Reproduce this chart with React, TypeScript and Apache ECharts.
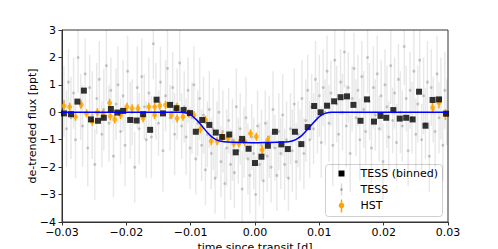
import React, { useEffect, useRef } from "react";
import * as echarts from "echarts";

// TESS unbinned: [time, flux, err]
const tessRaw: [number, number, number][] = [
  [-0.0297, 0.4, 1.3], [-0.0293, -0.6, 1.4], [-0.029, 1.1, 1.2], [-0.0286, -0.2, 1.5], [-0.0282, 0.7, 1.3],
  [-0.0279, -1.0, 1.4], [-0.0275, 2.0, 1.3], [-0.0271, 0.2, 1.2], [-0.0268, -0.5, 1.5], [-0.0264, 1.4, 1.3],
  [-0.026, -1.3, 1.4], [-0.0257, 0.9, 1.2], [-0.0253, -0.1, 1.6], [-0.0249, -1.9, 1.3], [-0.0246, 0.5, 1.3],
  [-0.0242, 1.2, 1.4], [-0.0238, -0.8, 1.2], [-0.0235, 0.1, 1.5], [-0.0231, 1.7, 1.3], [-0.0227, -0.4, 1.4],
  [-0.0224, 0.8, 1.2], [-0.022, -1.6, 1.5], [-0.0216, 0.3, 1.3], [-0.0213, 1.0, 1.4], [-0.0209, -0.7, 1.2],
  [-0.0205, 0.6, 1.3], [-0.0202, -1.2, 1.5], [-0.0198, 1.5, 1.3], [-0.0194, -0.3, 1.4], [-0.0191, 0.0, 1.2],
  [-0.0187, -2.0, 1.3], [-0.0183, 0.9, 1.5], [-0.018, -0.6, 1.3], [-0.0176, 1.3, 1.4], [-0.0172, 0.2, 1.2],
  [-0.0169, -1.0, 1.4], [-0.0165, 0.7, 1.3], [-0.0161, -0.9, 1.5], [-0.0158, 2.5, 1.3], [-0.0154, 0.4, 1.4],
  [-0.015, -0.4, 1.2], [-0.0147, 1.1, 1.3], [-0.0143, -1.4, 1.5], [-0.0139, 0.6, 1.3], [-0.0136, 1.6, 1.4],
  [-0.0132, -0.2, 1.2], [-0.0128, 0.9, 1.3], [-0.0125, -0.8, 1.5], [-0.0121, 0.3, 1.3], [-0.0117, 1.8, 1.4],
  [-0.0114, -0.5, 1.2], [-0.011, 0.2, 1.3], [-0.0107, -0.9, 1.4], [-0.0104, 0.8, 1.2], [-0.0101, -1.3, 1.5],
  [-0.0098, -0.2, 1.3], [-0.0095, 1.0, 1.4], [-0.0092, -1.7, 1.3], [-0.0089, -0.4, 1.2], [-0.0086, 0.5, 1.5],
  [-0.0083, -1.2, 1.3], [-0.008, -0.1, 1.4], [-0.0077, -2.1, 1.3], [-0.0074, -0.8, 1.2], [-0.0071, 0.1, 1.4],
  [-0.0068, -1.5, 1.3], [-0.0065, -0.6, 1.5], [-0.0062, -2.4, 1.3], [-0.0059, -1.0, 1.4], [-0.0056, 0.0, 1.2],
  [-0.0053, -1.8, 1.3], [-0.005, -0.7, 1.5], [-0.0047, -2.6, 1.3], [-0.0044, -1.3, 1.4], [-0.0041, -0.3, 1.2],
  [-0.0038, -1.9, 1.3], [-0.0035, -1.0, 1.5], [-0.0032, -2.2, 1.3], [-0.0029, 0.2, 1.4], [-0.0026, -1.4, 1.2],
  [-0.0023, -0.6, 1.3], [-0.002, -2.8, 1.4], [-0.0017, -1.1, 1.3], [-0.0014, -0.2, 1.5], [-0.0011, -1.7, 1.3],
  [-0.0008, -2.3, 1.4], [-0.0005, -0.9, 1.2], [-0.0002, -1.5, 1.3], [0.0001, -3.0, 1.4], [0.0004, -0.5, 1.3],
  [0.0007, -1.9, 1.5], [0.001, -1.2, 1.3], [0.0013, -2.5, 1.4], [0.0016, -0.4, 1.2], [0.0019, -1.6, 1.3],
  [0.0022, -0.9, 1.5], [0.0025, -2.0, 1.3], [0.0028, 0.1, 1.4], [0.0031, -1.3, 1.2], [0.0034, -2.3, 1.3],
  [0.0037, -0.7, 1.4], [0.004, -1.5, 1.3], [0.0043, -0.1, 1.5], [0.0046, -1.9, 1.3], [0.0049, -1.0, 1.4],
  [0.0052, -2.4, 1.2], [0.0055, -0.6, 1.3], [0.0058, -1.4, 1.5], [0.0061, 0.3, 1.3], [0.0064, -1.8, 1.4],
  [0.0067, -0.8, 1.2], [0.007, -1.2, 1.3], [0.0073, 0.5, 1.4], [0.0076, -1.5, 1.3], [0.0079, -0.3, 1.5],
  [0.0082, 0.8, 1.3], [0.0085, -1.0, 1.4], [0.0088, 0.2, 1.2], [0.0091, -0.6, 1.3], [0.0094, 1.2, 1.4],
  [0.0097, -0.2, 1.3], [0.01, 0.6, 1.5], [0.0103, -1.1, 1.3], [0.0106, 0.9, 1.4], [0.0109, 0.0, 1.2],
  [0.0112, 1.5, 1.3], [0.0115, -0.4, 1.4], [0.0118, 0.7, 1.2], [0.0121, -1.2, 1.5], [0.0124, 1.9, 1.3],
  [0.0127, 0.3, 1.4], [0.013, -0.8, 1.3], [0.0133, 1.1, 1.2], [0.0136, 0.0, 1.4], [0.0139, 2.2, 1.3],
  [0.0142, -0.5, 1.5], [0.0145, 0.9, 1.3], [0.0148, -1.5, 1.4], [0.0151, 0.5, 1.2], [0.0154, 1.6, 1.3],
  [0.0157, -0.2, 1.4], [0.016, 0.8, 1.3], [0.0163, -1.0, 1.5], [0.0166, 1.3, 1.3], [0.0169, 0.1, 1.4],
  [0.0172, -0.7, 1.2], [0.0175, 2.0, 1.3], [0.0178, 0.4, 1.4], [0.0181, -1.3, 1.3], [0.0184, 0.9, 1.5],
  [0.0187, -0.1, 1.3], [0.019, 1.4, 1.4], [0.0193, -0.6, 1.2], [0.0196, 0.6, 1.3], [0.0199, -1.8, 1.4],
  [0.0202, 1.0, 1.3], [0.0205, 0.2, 1.5], [0.0208, -0.9, 1.3], [0.0211, 1.7, 1.4], [0.0214, -0.3, 1.2],
  [0.0217, 0.7, 1.3], [0.022, -1.1, 1.4], [0.0223, 1.2, 1.3], [0.0226, 0.0, 1.5], [0.0229, -0.5, 1.3],
  [0.0232, 2.4, 1.4], [0.0235, 0.5, 1.2], [0.0238, -1.4, 1.3], [0.0241, 0.8, 1.4], [0.0244, -0.2, 1.3],
  [0.0247, 1.5, 1.5], [0.025, -0.8, 1.3], [0.0253, 0.3, 1.4], [0.0256, 1.9, 1.2], [0.0259, -1.0, 1.3],
  [0.0262, 0.6, 1.4], [0.0265, -0.4, 1.3], [0.0268, 1.1, 1.5], [0.0271, -1.6, 1.3], [0.0274, 0.9, 1.4],
  [0.0277, 0.1, 1.2], [0.028, -0.7, 1.3], [0.0283, 1.4, 1.4], [0.0286, -0.2, 1.3], [0.0289, 0.5, 1.5],
  [0.0292, -1.2, 1.3], [0.0295, 0.8, 1.4], [0.0298, 0.0, 1.2],
];

// TESS binned
const binTime = [
  -0.0297, -0.0286, -0.0276, -0.0266, -0.0255, -0.0244, -0.0235, -0.0224, -0.0214, -0.0205,
  -0.0194, -0.0184, -0.0174, -0.0163, -0.0153, -0.0143, -0.0132, -0.0122, -0.0111, -0.0101,
  -0.0092, -0.0082, -0.0071, -0.0061, -0.0051, -0.004, -0.003, -0.002, -0.001, 0.0,
  0.001, 0.002, 0.0031, 0.0041, 0.0051, 0.0062, 0.0072, 0.0082, 0.0092, 0.0102,
  0.0112, 0.0123, 0.0133, 0.0143, 0.0153, 0.0164, 0.0174, 0.0185, 0.0195, 0.0204,
  0.0215, 0.0225, 0.0235, 0.0245, 0.0255, 0.0265, 0.0276, 0.0286, 0.0297,
];
const binFlux = [
  -0.04, -0.07, 0.39, 0.79, -0.26, -0.31, -0.2, 0.12, -0.01, 0.05,
  -0.28, -0.3, -0.07, -0.64, 0.46, -0.04, 0.27, 0.15, 0.08, -0.03,
  -0.71, -0.28, -0.46, -0.74, -0.9, -0.81, -1.46, -0.97, -1.33, -1.85,
  -1.62, -1.22, -0.71, -1.17, -1.34, -0.71, -1.16, -0.54, 0.23, 0.0,
  0.24, 0.4, 0.55, 0.58, 0.27, -0.31, 0.47, -0.34, -0.13, -0.2,
  0.08, -0.23, -0.2, -0.26, 0.75, -0.49, 0.45, 0.47, -0.05,
];

// HST
const hstTime = [
  -0.0297, -0.0288, -0.0279, -0.027, -0.0262, -0.0253, -0.0245, -0.0236, -0.0226, -0.0225,
  -0.0218, -0.0209, -0.0199, -0.0191, -0.0182, -0.0174, -0.0165, -0.0156, -0.0156, -0.0148,
  -0.0139, -0.013, -0.0122, -0.0121, -0.0112, -0.0103, -0.0095, -0.0085, -0.0077, -0.0068,
  -0.0059, -0.0051, -0.0042, -0.0033, -0.0025, -0.0016, -0.0007, 0.0002, 0.0011, 0.002,
  0.0276, 0.0286, 0.0296,
];
const hstFlux = [
  0.23, 0.2, -0.16, 0.28, -0.04, -0.34, 0.0, -0.04, 0.34, -0.14,
  -0.26, -0.1, 0.2, 0.14, 0.14, -0.22, 0.2, 0.2, -0.1, 0.24,
  0.27, -0.1, 0.15, -0.22, -0.16, -0.04, -0.1, -0.62, -0.28, -1.05,
  -1.05, -0.89, -0.95, -1.13, -1.13, -1.07, -0.77, -0.89, -1.37, -1.01,
  0.17, 0.35, -0.08,
];
const hstErr = [
  0.15, 0.15, 0.15, 0.15, 0.15, 0.15, 0.15, 0.15, 0.15, 0.15,
  0.15, 0.15, 0.15, 0.15, 0.15, 0.15, 0.15, 0.15, 0.15, 0.15,
  0.15, 0.15, 0.15, 0.15, 0.15, 0.15, 0.15, 0.15, 0.15, 0.15,
  0.15, 0.15, 0.15, 0.15, 0.15, 0.15, 0.15, 0.15, 0.15, 0.15,
  0.2, 0.2, 0.2,
];

// Transit model
const modelTime = [
  -0.03, -0.0115, -0.0105, -0.0098, -0.0092, -0.0086, -0.008, -0.0074, -0.0068, -0.0062,
  -0.0056, -0.0048, -0.0035, -0.002, 0.0, 0.002, 0.0035, 0.0052, 0.006, 0.0066,
  0.0072, 0.0078, 0.0084, 0.009, 0.0096, 0.0102, 0.0109, 0.0119, 0.03,
];
const modelFlux = [
  0, 0, -0.04, -0.12, -0.25, -0.4, -0.57, -0.74, -0.88, -0.98,
  -1.04, -1.07, -1.09, -1.1, -1.11, -1.1, -1.09, -1.07, -1.03, -0.96,
  -0.86, -0.72, -0.56, -0.4, -0.25, -0.12, -0.04, 0, 0,
];

const xTicks = [-0.03, -0.02, -0.01, 0.0, 0.01, 0.02, 0.03];
const yTicks = [-4, -3, -2, -1, 0, 1, 2, 3];

const FONT = "DejaVu Sans";
const fmtMinus = (s: string) => s.replace("-", "\u2212");

function errRender(color: string, width: number) {
  return (params: any, api: any) => {
    const x = api.value(0);
    const y = api.value(1);
    const e = api.value(2);
    const p1 = api.coord([x, y + e]);
    const p2 = api.coord([x, y - e]);
    return {
      type: "line",
      shape: { x1: p1[0], y1: p1[1], x2: p2[0], y2: p2[1] },
      style: { stroke: color, lineWidth: width },
    };
  };
}

export default function App() {
  const ref = useRef<HTMLDivElement>(null);
  useEffect(() => {
    if (!ref.current) return;
    const chart = echarts.init(ref.current, null, { renderer: "svg" });
    const hstData = hstTime.map((t, i) => [t, hstFlux[i], hstErr[i]]);
    const option: any = {
      animation: false,
      backgroundColor: "#ffffff",
      textStyle: { fontFamily: FONT },
      grid: {
        left: 62, top: 30, width: 386, height: 192,
        outerBoundsMode: "none", containLabel: false,
        show: true, borderColor: "#333", borderWidth: 1, backgroundColor: "transparent",
      },
      xAxis: {
        type: "value",
        min: xTicks[0], max: xTicks[xTicks.length - 1], interval: 0.01,
        name: "time since transit [d]",
        nameLocation: "middle", nameGap: 20, nameMoveOverlap: false,
        nameTextStyle: { fontFamily: FONT, fontSize: 11, color: "#000" },
        axisLine: { show: true, onZero: false, lineStyle: { color: "#333", width: 1 } },
        axisTick: { show: true, inside: false, length: 3.5, lineStyle: { color: "#333" } },
        axisLabel: {
          fontFamily: FONT, fontSize: 11, color: "#000", margin: 5,
          formatter: (v: number) => fmtMinus(v.toFixed(2)),
        },
        splitLine: { show: false },
      },
      yAxis: {
        type: "value",
        min: yTicks[0], max: yTicks[yTicks.length - 1], interval: 1,
        name: "de-trended flux [ppt]",
        nameLocation: "middle", nameGap: 24, nameRotate: 90, nameMoveOverlap: false,
        nameTextStyle: { fontFamily: FONT, fontSize: 11, color: "#000" },
        axisLine: { show: true, onZero: false, lineStyle: { color: "#333", width: 1 } },
        axisTick: { show: true, inside: false, length: 3.5, lineStyle: { color: "#333" } },
        axisLabel: {
          fontFamily: FONT, fontSize: 11, color: "#000", margin: 6,
          formatter: (v: number) => fmtMinus(String(v)),
        },
        splitLine: { show: false },
      },
      series: [
        {
          name: "TESS err", type: "custom", clip: true,
          renderItem: errRender("rgba(0,0,0,0.09)", 1.5),
          data: tessRaw, encode: { x: 0, y: 1 }, z: 1,
        },
        {
          name: "TESS", type: "scatter", symbol: "circle", symbolSize: 3,
          itemStyle: { color: "rgba(80,80,80,0.35)" },
          data: tessRaw.map((d) => [d[0], d[1]]), z: 2,
        },
        {
          name: "HST err", type: "custom", clip: true,
          renderItem: errRender("#ffa500", 1.5),
          data: hstData, encode: { x: 0, y: 1 }, z: 3,
        },
        {
          name: "HST", type: "scatter", symbol: "circle", symbolSize: 5,
          itemStyle: { color: "#ffa500" },
          data: hstData.map((d) => [d[0], d[1]]), z: 4,
        },
        {
          name: "TESS (binned)", type: "scatter", symbol: "rect", symbolSize: 6,
          itemStyle: { color: "#000" },
          data: binTime.map((t, i) => [t, binFlux[i]]), z: 5,
        },
        {
          name: "model", type: "line", smooth: 0.3, showSymbol: false,
          lineStyle: { color: "#0000ff", width: 1.5 },
          data: modelTime.map((t, i) => [t, modelFlux[i]]), z: 6,
        },
      ],
      graphic: [
        {
          type: "group", left: 325, top: 164, z: 100,
          children: [
            { type: "rect", shape: { x: 0, y: 0, width: 117, height: 52, r: 3 },
              style: { fill: "rgba(255,255,255,0.85)", stroke: "#d0d0d0", lineWidth: 1 } },
            { type: "rect", shape: { x: 13, y: 6, width: 6, height: 6 }, style: { fill: "#000" } },
            { type: "text", x: 35, y: 9, style: { text: "TESS (binned)", font: `11px '${FONT}'`, fill: "#000", verticalAlign: "middle" } },
            { type: "line", shape: { x1: 16, y1: 19, x2: 16, y2: 31 }, style: { stroke: "rgba(0,0,0,0.15)", lineWidth: 1.5 } },
            { type: "circle", shape: { cx: 16, cy: 25, r: 1.5 }, style: { fill: "rgba(80,80,80,0.35)" } },
            { type: "text", x: 35, y: 25, style: { text: "TESS", font: `11px '${FONT}'`, fill: "#000", verticalAlign: "middle" } },
            { type: "line", shape: { x1: 16, y1: 35, x2: 16, y2: 48 }, style: { stroke: "#ffa500", lineWidth: 1.5 } },
            { type: "circle", shape: { cx: 16, cy: 41, r: 2.8 }, style: { fill: "#ffa500" } },
            { type: "text", x: 35, y: 41, style: { text: "HST", font: `11px '${FONT}'`, fill: "#000", verticalAlign: "middle" } },
          ],
        },
      ],
    };
    chart.setOption(option);
    return () => chart.dispose();
  }, []);
  return (
    <div
      ref={ref}
      style={{ position: "fixed", left: 0, top: 0, width: 498, height: 249, background: "#fff" }}
    />
  );
}
